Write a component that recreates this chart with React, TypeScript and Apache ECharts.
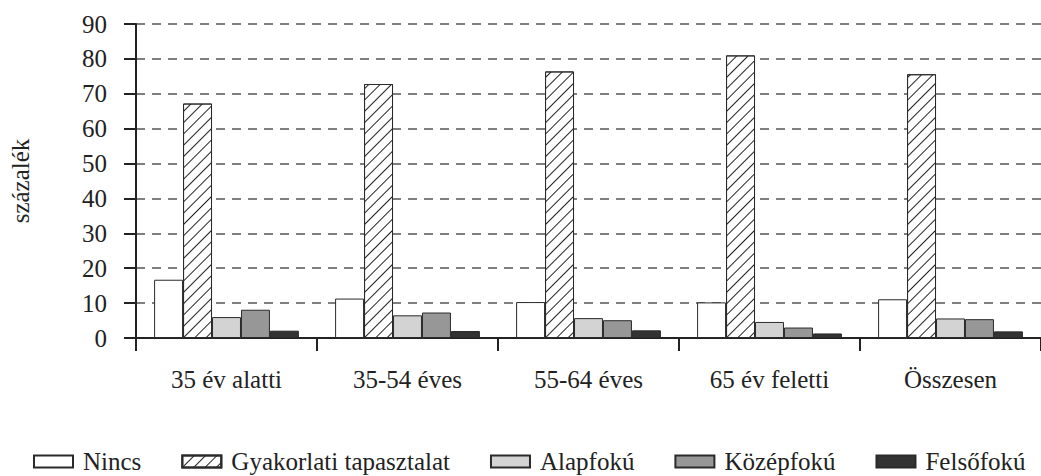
import React, { useEffect, useRef } from "react";
import * as echarts from "echarts";

const categories = ["35 év alatti", "35-54 éves", "55-64 éves", "65 év feletti", "Összesen"];
const seriesNames = ["Nincs", "Gyakorlati tapasztalat", "Alapfokú", "Középfokú", "Felsőfokú"];
const nincs = [16.7, 11.3, 10.3, 10.2, 11.1];
const gyakorlati = [67.2, 72.8, 76.4, 81.0, 75.6];
const alapfoku = [6.0, 6.5, 5.7, 4.6, 5.6];
const kozepfoku = [8.1, 7.3, 5.1, 3.0, 5.4];
const felsofoku = [2.1, 2.0, 2.2, 1.3, 1.9];
const yTicks = { min: 0, max: 90, interval: 10 };
const yName = "százalék";

const FONT = "Liberation Serif";

export default function App() {
  const ref = useRef<HTMLDivElement>(null);
  useEffect(() => {
    if (!ref.current) return;
    const chart = echarts.init(ref.current, undefined, { renderer: "svg" });
    const values = [nincs, gyakorlati, alapfoku, kozepfoku, felsofoku];
    const fills = ["#ffffff", "#ffffff", "#d3d3d3", "#979797", "#333333"];
    const series = seriesNames.map((name, i) => ({
      name,
      type: "bar",
      data: values[i],
      barGap: "0%",
      barCategoryGap: "20%",
      itemStyle: {
        color: fills[i],
        borderColor: "#2a2a2a",
        borderWidth: 1,
        ...(i === 1
          ? {
              decal: {
                symbol: "rect",
                symbolSize: 1,
                dashArrayX: [1, 0],
                dashArrayY: [1, 7],
                rotation: -Math.PI / 4,
                color: "#222222",
              },
            }
          : {}),
      },
    }));
    chart.setOption({
      animation: false,
      backgroundColor: "#ffffff",
      textStyle: { fontFamily: FONT, fontSize: 25 },
      grid: { left: 128, top: 24, width: 918, height: 314 },
      legend: {
        data: seriesNames,
        top: 444,
        left: 28,
        icon: "rect",
        itemWidth: 39,
        itemHeight: 12,
        itemGap: 40,
        textStyle: { fontFamily: FONT, fontSize: 25, color: "#222", padding: [0, 0, 0, 5] },
      },
      xAxis: {
        type: "category",
        data: categories,
        axisLine: { lineStyle: { color: "#222", width: 2 } },
        axisTick: { show: true, length: 13, lineStyle: { color: "#222", width: 2 } },
        axisLabel: { fontFamily: FONT, fontSize: 25, color: "#222", margin: 29 },
      },
      yAxis: {
        type: "value",
        min: yTicks.min,
        max: yTicks.max,
        interval: yTicks.interval,
        name: yName,
        nameLocation: "middle",
        nameGap: 103,
        nameTextStyle: { fontFamily: FONT, fontSize: 25, color: "#222" },
        axisLine: { show: true, lineStyle: { color: "#222", width: 2 } },
        axisTick: { show: true, length: 12, lineStyle: { color: "#222", width: 2 } },
        axisLabel: { fontFamily: FONT, fontSize: 25, color: "#222", margin: 29 },
        splitLine: { show: true, lineStyle: { color: "#555", width: 1.5, type: [9, 7] } },
      },
      series,
    });
    return () => chart.dispose();
  }, []);
  return (
    <div
      ref={ref}
      style={{ position: "fixed", left: 0, top: 0, width: 1041, height: 476 }}
    />
  );
}
